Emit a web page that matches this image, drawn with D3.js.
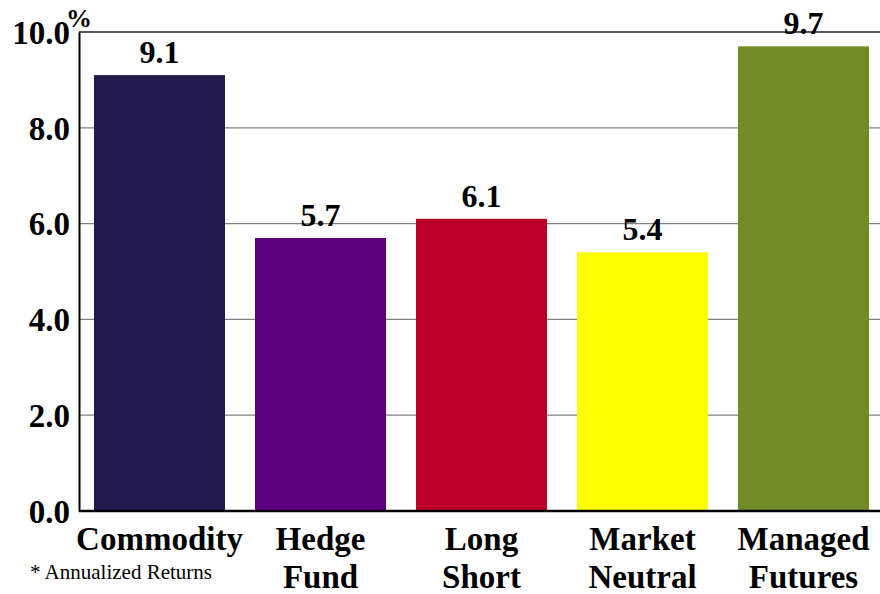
<!DOCTYPE html>
<html>
<head>
<meta charset="utf-8">
<script src="https://cdn.jsdelivr.net/npm/d3@7"></script>
<style>
  body { margin: 0; background: #fff; }
</style>
</head>
<body>
<svg id="chart" width="880" height="594"></svg>
<script>
// data
const categories = [["Commodity"], ["Hedge", "Fund"], ["Long", "Short"], ["Market", "Neutral"], ["Managed", "Futures"]];
const returns = [9.1, 5.7, 6.1, 5.4, 9.7];
const barColors = ["#21184b", "#5c0080", "#bb0026", "#ffff00", "#718c24"];
const yTicks = [0, 2, 4, 6, 8, 10];

const data = categories.map((c, i) => ({ id: i, lines: c, value: returns[i], color: barColors[i] }));

const serif = "Liberation Serif";
const plotLeft = 79, plotTop = 32, plotBottom = 511, plotRight = 880;

const svg = d3.select("#chart").attr("font-family", serif);

const xScale = d3.scaleBand()
    .domain(data.map(d => d.id))
    .range([plotLeft, plotLeft + 5 * 161])
    .paddingInner(30 / 161)
    .paddingOuter(15 / 161);

const yScale = d3.scaleLinear().domain([0, 10]).range([plotBottom, plotTop]);

// gridlines
svg.append("g")
   .selectAll("line")
   .data(yTicks.filter(t => t > 0 && t < 10))
   .enter()
   .append("line")
   .attr("x1", plotLeft).attr("x2", plotRight)
   .attr("y1", d => yScale(d)).attr("y2", d => yScale(d))
   .style("stroke", "#808080")
   .style("stroke-width", 1.3);

// top frame
svg.append("line")
   .attr("x1", plotLeft).attr("x2", plotRight)
   .attr("y1", yScale(10)).attr("y2", yScale(10))
   .style("stroke", "#222").style("stroke-width", 1.5);

// bars
svg.append("g")
   .selectAll(".bar")
   .data(data, d => d.id)
   .enter()
   .append("rect")
   .classed("bar", true)
   .attr("x", d => xScale(d.id))
   .attr("width", xScale.bandwidth())
   .attr("y", d => yScale(d.value))
   .attr("height", d => yScale(0) - yScale(d.value))
   .style("fill", d => d.color);

// value labels
svg.append("g")
   .selectAll("text")
   .data(data)
   .enter()
   .append("text")
   .text(d => d.value.toFixed(1))
   .attr("x", d => xScale(d.id) + xScale.bandwidth() / 2)
   .attr("y", d => yScale(d.value) - 12)
   .attr("text-anchor", "middle")
   .attr("font-family", serif)
   .attr("font-size", 32)
   .attr("font-weight", "bold")
   .attr("fill", "#000");

// y axis
const yAxis = svg.append("g")
   .attr("transform", `translate(${plotLeft},0)`)
   .call(d3.axisLeft(yScale).tickValues(yTicks).tickFormat(d3.format(".1f")).tickSize(0).tickPadding(9));
yAxis.attr("font-family", serif).attr("font-size", 33).attr("font-weight", "bold");
yAxis.select(".domain").style("stroke", "#000").style("stroke-width", 2);
yAxis.selectAll("text")
   .attr("fill", "#000")
   .attr("dy", "0.34em");

svg.append("text")
   .text("%")
   .attr("x", 66).attr("y", 27)
   .attr("font-family", serif)
   .attr("font-size", 26)
   .attr("font-weight", "bold");

// x axis line
svg.append("line")
   .attr("x1", plotLeft).attr("x2", plotRight)
   .attr("y1", plotBottom).attr("y2", plotBottom)
   .style("stroke", "#000").style("stroke-width", 2.5);

// category labels
const catLabels = svg.append("g")
   .selectAll("text")
   .data(data)
   .enter()
   .append("text")
   .attr("text-anchor", "middle")
   .attr("font-family", serif)
   .attr("font-size", 33)
   .attr("font-weight", "bold");
catLabels.selectAll("tspan")
   .data(d => d.lines.map(l => ({ l, x: xScale(d.id) + xScale.bandwidth() / 2 })))
   .enter()
   .append("tspan")
   .attr("x", d => d.x)
   .attr("y", (d, i) => 550 + i * 38)
   .text(d => d.l);

svg.append("text")
   .text("* Annualized Returns")
   .attr("x", 30).attr("y", 579)
   .attr("font-family", serif)
   .attr("font-size", 21);
</script>
</body>
</html>
